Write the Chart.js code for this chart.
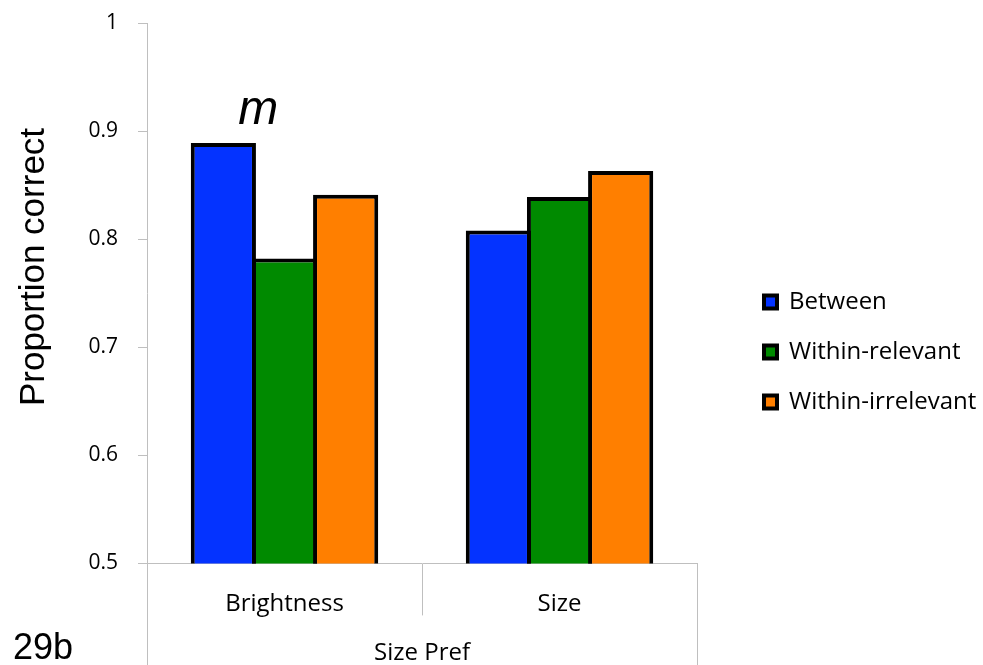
<!DOCTYPE html>
<html>
<head>
<meta charset="utf-8">
<script src="https://cdn.jsdelivr.net/npm/chart.js@4.4.0/dist/chart.umd.min.js"></script>
<style>
    html, body { margin: 0; padding: 0; background: #fff; }
    #wrap { width: 983px; height: 665px; }
</style>
</head>
<body>
<div id="wrap"><canvas id="barChart" width="983" height="665"></canvas></div>
<script>
// ================= DATA =================
const categories = ['Brightness', 'Size'];
const groupLabel = 'Size Pref';
const seriesNames = ['Between', 'Within-relevant', 'Within-irrelevant'];
const betweenValues = [0.889, 0.808];
const withinRelevantValues = [0.782, 0.839];
const withinIrrelevantValues = [0.841, 0.863];
const yTicks = [0.5, 0.6, 0.7, 0.8, 0.9, 1];
const yTickLabels = ['0.5', '0.6', '0.7', '0.8', '0.9', '1'];
const seriesColors = ['#0433ff', '#008a00', '#ff7f00'];

const axisGray = '#bfbfbf';
const labelFont = 'Open Sans';

// ================= EXTRA TEXT / SEPARATORS =================
const extrasPlugin = {
    id: 'extras',
    afterDraw(chart) {
        const { ctx, chartArea } = chart;
        const xs = chart.scales.x;
        ctx.save();

        // outer separators of the grouped axis run to the bottom
        ctx.strokeStyle = axisGray;
        ctx.lineWidth = 1;
        ctx.beginPath();
        [xs.left, xs.right].forEach(px => {
            const p = Math.round(px) + 0.5;
            ctx.moveTo(p, chartArea.bottom);
            ctx.lineTo(p, chart.height);
        });
        ctx.stroke();

        // y title
        ctx.fillStyle = '#000';
        ctx.font = '35px "Liberation Sans"';
        ctx.textAlign = 'center';
        ctx.textBaseline = 'alphabetic';
        ctx.translate(44, 267);
        ctx.rotate(-Math.PI / 2);
        ctx.fillText('Proportion correct', 0, 0);
        ctx.setTransform(1, 0, 0, 1, 0, 0);

        // "m" marker over the first bar
        const bar = chart.getDatasetMeta(0).data[0];
        ctx.font = 'italic 48px "Liberation Sans"';
        ctx.textAlign = 'left';
        ctx.fillText('m', bar.x + 15, bar.y - 19);

        // panel label
        ctx.font = '36px "Liberation Sans"';
        ctx.fillText('29b', 13, 659);

        ctx.restore();
    }
};

// ================= CHART =================
function initChart() {
    const ctx = document.getElementById('barChart');

    const seriesData = [betweenValues, withinRelevantValues, withinIrrelevantValues];

    new Chart(ctx, {
        type: 'bar',
        data: {
            labels: categories,
            datasets: seriesNames.map((name, i) => ({
                label: name,
                data: seriesData[i],
                backgroundColor: seriesColors[i],
                borderColor: '#000',
                borderWidth: 4,
                borderSkipped: false,
                inflateAmount: 0,
                categoryPercentage: 0.667,
                barPercentage: 1.066,
                yAxisID: 'y'
            }))
        },
        options: {
            responsive: false,
            animation: false,
            layout: { padding: { top: 23, right: -3.3, bottom: 0, left: 0 } },
            plugins: {
                tooltip: { enabled: false },
                legend: {
                    position: 'right',
                    maxWidth: 400,
                    title: { display: true, text: '', padding: { top: 4, bottom: 0 }, font: { size: 10 } },
                    labels: {
                        boxWidth: 13,
                        boxHeight: 13,
                        padding: 26,
                        color: '#000',
                        font: { family: labelFont, size: 24 }
                    }
                }
            },
            scales: {
                x: {
                    grid: { display: true, drawOnChartArea: false, tickLength: 52, color: axisGray, offset: true },
                    border: { color: axisGray },
                    ticks: { padding: -26, color: '#000', font: { family: labelFont, size: 24 } },
                    title: {
                        display: true,
                        text: groupLabel,
                        color: '#000',
                        font: { family: labelFont, size: 24 },
                        padding: { top: 47, bottom: -3 }
                    }
                },
                y: {
                    min: 0.5,
                    max: 1,
                    afterBuildTicks: s => { s.ticks = yTicks.map(v => ({ value: v })); },
                    afterFit: s => { s.width = 147; s.paddingTop = 0; s.paddingBottom = 0; },
                    grid: { display: true, drawOnChartArea: false, tickLength: 9, color: axisGray },
                    border: { color: axisGray },
                    ticks: {
                        padding: 20,
                        color: '#000',
                        font: { family: labelFont, size: 21 },
                        callback: (v, i) => yTickLabels[i]
                    }
                },
                yPad: {
                    position: 'right',
                    min: 0,
                    max: 1,
                    grid: { display: false },
                    border: { display: false },
                    ticks: { display: false },
                    afterFit: s => { s.width = 41; }
                }
            }
        },
        plugins: [extrasPlugin]
    });
}

initChart();
</script>
</body>
</html>
